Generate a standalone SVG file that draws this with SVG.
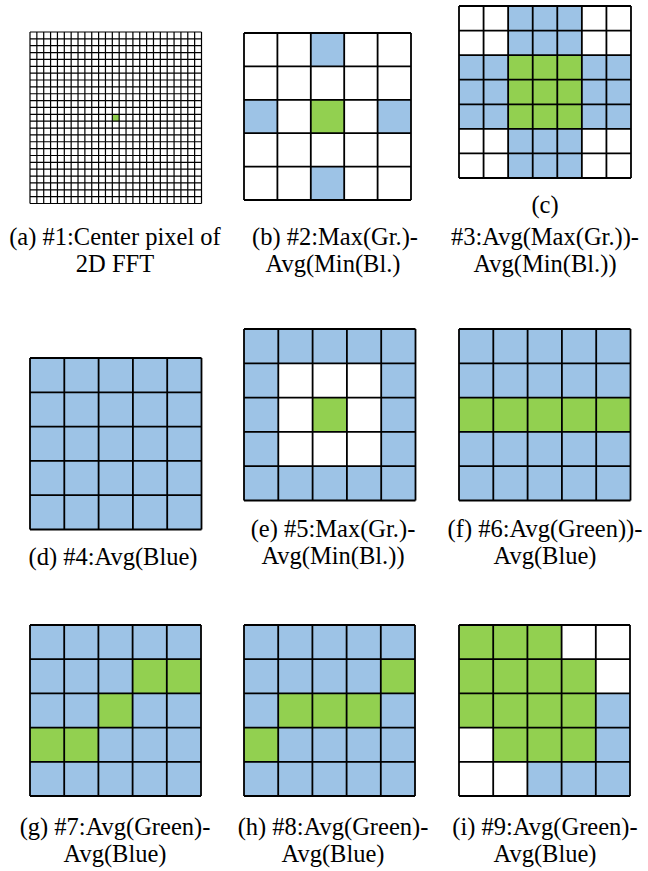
<svg xmlns="http://www.w3.org/2000/svg" width="648" height="871" viewBox="0 0 648 871">
<style>
.b{fill:#9DC3E6}
.g{fill:#92D050}
.w{fill:#FFFFFF}
.ln{fill:none;stroke:#000;stroke-width:1.8;vector-effect:non-scaling-stroke}
.ln1{fill:none;stroke:#000;stroke-width:1.2;vector-effect:non-scaling-stroke}
.cap{font-family:"Liberation Serif","Times New Roman",serif;font-size:24.5px;fill:#000;text-anchor:middle}
</style>
<rect width="648" height="871" fill="#fff"/>

<g id="panel-a">
<g transform="translate(30,32) scale(6.86)">
<rect class="w" x="0" y="0" width="25" height="25"/>
<rect class="g" x="12" y="12" width="1" height="1"/>
<path class="ln1" d="M0 0H25M0 1H25M0 2H25M0 3H25M0 4H25M0 5H25M0 6H25M0 7H25M0 8H25M0 9H25M0 10H25M0 11H25M0 12H25M0 13H25M0 14H25M0 15H25M0 16H25M0 17H25M0 18H25M0 19H25M0 20H25M0 21H25M0 22H25M0 23H25M0 24H25M0 25H25M0 0V25M1 0V25M2 0V25M3 0V25M4 0V25M5 0V25M6 0V25M7 0V25M8 0V25M9 0V25M10 0V25M11 0V25M12 0V25M13 0V25M14 0V25M15 0V25M16 0V25M17 0V25M18 0V25M19 0V25M20 0V25M21 0V25M22 0V25M23 0V25M24 0V25M25 0V25"/>
</g>
<text class="cap" x="115" y="245">(a) #1:Center pixel of</text>
<text class="cap" x="115" y="272">2D FFT</text>
</g>

<g id="panel-b">
<g transform="translate(244,33) scale(33.4)">
<rect class="w" x="0" y="0" width="5" height="5"/>
<rect class="b" x="2" y="0" width="1" height="1"/>
<rect class="b" x="0" y="2" width="1" height="1"/>
<rect class="g" x="2" y="2" width="1" height="1"/>
<rect class="b" x="4" y="2" width="1" height="1"/>
<rect class="b" x="2" y="4" width="1" height="1"/>
<path class="ln" d="M0 0H5M0 1H5M0 2H5M0 3H5M0 4H5M0 5H5M0 0V5M1 0V5M2 0V5M3 0V5M4 0V5M5 0V5"/>
</g>
<text class="cap" x="335" y="245">(b) #2:Max(Gr.)-</text>
<text class="cap" x="333" y="272">Avg(Min(Bl.)</text>
</g>

<g id="panel-c">
<g transform="translate(459,6) scale(24.57)">
<rect class="w" x="0" y="0" width="7" height="7"/>
<rect class="b" x="2" y="0" width="3" height="2"/>
<rect class="b" x="0" y="2" width="2" height="3"/>
<rect class="g" x="2" y="2" width="3" height="3"/>
<rect class="b" x="5" y="2" width="2" height="3"/>
<rect class="b" x="2" y="5" width="3" height="2"/>
<path class="ln" d="M0 0H7M0 1H7M0 2H7M0 3H7M0 4H7M0 5H7M0 6H7M0 7H7M0 0V7M1 0V7M2 0V7M3 0V7M4 0V7M5 0V7M6 0V7M7 0V7"/>
</g>
<text class="cap" x="545" y="213">(c)</text>
<text class="cap" x="545" y="245">#3:Avg(Max(Gr.))-</text>
<text class="cap" x="545" y="272">Avg(Min(Bl.))</text>
</g>

<g id="panel-d">
<g transform="translate(30,358) scale(34.3)">
<rect class="b" x="0" y="0" width="5" height="5"/>
<path class="ln" d="M0 0H5M0 1H5M0 2H5M0 3H5M0 4H5M0 5H5M0 0V5M1 0V5M2 0V5M3 0V5M4 0V5M5 0V5"/>
</g>
<text class="cap" x="113" y="565">(d) #4:Avg(Blue)</text>
</g>

<g id="panel-e">
<g transform="translate(244,329) scale(34.3)">
<rect class="b" x="0" y="0" width="5" height="5"/>
<rect class="w" x="1" y="1" width="3" height="3"/>
<rect class="g" x="2" y="2" width="1" height="1"/>
<path class="ln" d="M0 0H5M0 1H5M0 2H5M0 3H5M0 4H5M0 5H5M0 0V5M1 0V5M2 0V5M3 0V5M4 0V5M5 0V5"/>
</g>
<text class="cap" x="333" y="537">(e) #5:Max(Gr.)-</text>
<text class="cap" x="333" y="564">Avg(Min(Bl.))</text>
</g>

<g id="panel-f">
<g transform="translate(459,329) scale(34.3)">
<rect class="b" x="0" y="0" width="5" height="5"/>
<rect class="g" x="0" y="2" width="5" height="1"/>
<path class="ln" d="M0 0H5M0 1H5M0 2H5M0 3H5M0 4H5M0 5H5M0 0V5M1 0V5M2 0V5M3 0V5M4 0V5M5 0V5"/>
</g>
<text class="cap" x="545" y="537">(f) #6:Avg(Green))-</text>
<text class="cap" x="545" y="564">Avg(Blue)</text>
</g>

<g id="panel-g">
<g transform="translate(30,625) scale(34.2)">
<rect class="b" x="0" y="0" width="5" height="5"/>
<rect class="g" x="3" y="1" width="2" height="1"/>
<rect class="g" x="2" y="2" width="1" height="1"/>
<rect class="g" x="0" y="3" width="2" height="1"/>
<path class="ln" d="M0 0H5M0 1H5M0 2H5M0 3H5M0 4H5M0 5H5M0 0V5M1 0V5M2 0V5M3 0V5M4 0V5M5 0V5"/>
</g>
<text class="cap" x="115" y="835">(g) #7:Avg(Green)-</text>
<text class="cap" x="115" y="862">Avg(Blue)</text>
</g>

<g id="panel-h">
<g transform="translate(244,625) scale(34.2)">
<rect class="b" x="0" y="0" width="5" height="5"/>
<rect class="g" x="4" y="1" width="1" height="1"/>
<rect class="g" x="1" y="2" width="3" height="1"/>
<rect class="g" x="0" y="3" width="1" height="1"/>
<path class="ln" d="M0 0H5M0 1H5M0 2H5M0 3H5M0 4H5M0 5H5M0 0V5M1 0V5M2 0V5M3 0V5M4 0V5M5 0V5"/>
</g>
<text class="cap" x="333" y="835">(h) #8:Avg(Green)-</text>
<text class="cap" x="333" y="862">Avg(Blue)</text>
</g>

<g id="panel-i">
<g transform="translate(459,625) scale(34.2)">
<rect class="w" x="0" y="0" width="5" height="5"/>
<rect class="g" x="0" y="0" width="3" height="1"/>
<rect class="g" x="0" y="1" width="4" height="2"/>
<rect class="b" x="4" y="2" width="1" height="2"/>
<rect class="g" x="1" y="3" width="3" height="1"/>
<rect class="b" x="2" y="4" width="3" height="1"/>
<path class="ln" d="M0 0H5M0 1H5M0 2H5M0 3H5M0 4H5M0 5H5M0 0V5M1 0V5M2 0V5M3 0V5M4 0V5M5 0V5"/>
</g>
<text class="cap" x="545" y="835">(i) #9:Avg(Green)-</text>
<text class="cap" x="545" y="862">Avg(Blue)</text>
</g>

<g id="connectors"></g>
</svg>
